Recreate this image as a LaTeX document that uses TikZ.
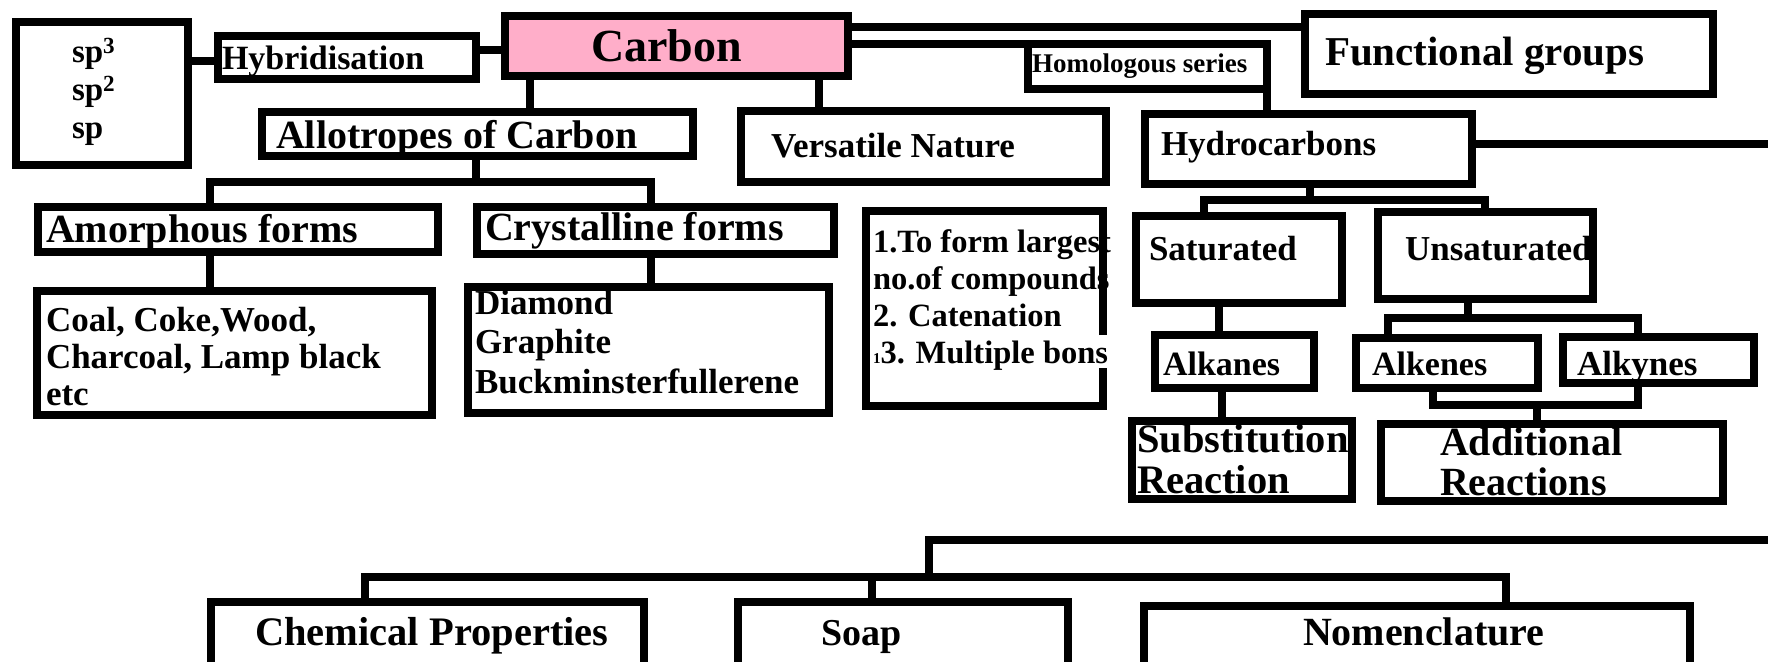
\documentclass[tikz,border=0pt]{standalone}
\usepackage{fontspec}
\setmainfont{Liberation Serif}
\definecolor{carbonpink}{RGB}{255,174,201}
\newcommand{\bxn}[6][]{\node[bx,#1,minimum width={#5-#3-8},minimum height={#6-#4-8}] (#2) at ({(#3+#5)/2},{(#4+#6)/2}) {};}
\newcommand{\mlines}[2]{\vtop{\baselineskip=#1pt\lineskiplimit=-100pt\lineskip=0pt #2}}
\tikzset{
  bx/.style={draw=black, line width=8pt, rectangle, inner sep=0pt, outer sep=0pt, fill=white},
  tx/.style={anchor=base west, inner sep=0pt, outer sep=0pt, font=\bfseries\fontsize{#1}{#1}\selectfont},
  ln/.style={draw=black, line width=8pt, line join=miter},
}
\begin{document}
\begin{tikzpicture}[x=1pt,y=-1pt]
\path[use as bounding box] (0,0) rectangle (1768,661);
\clip (0,0) rectangle (1768,661);
% boxes
\bxn{sp}{12}{18}{192}{169}
\bxn{hyb}{214}{32}{480}{83}
\bxn[fill=carbonpink]{carbon}{501}{12}{852}{80}
\bxn{allo}{258}{108}{697}{160}
\bxn{vnat}{737}{107}{1110}{186}
\bxn{homo}{1024}{40}{1271}{93}
\bxn{hydro}{1141}{110}{1476}{188}
\bxn{fg}{1301}{10}{1717}{98}
\bxn{amor}{34}{203}{442}{256}
\bxn{crys}{473}{203}{838}{258}
\bxn{coal}{33}{287}{436}{419}
\bxn{diam}{464}{283}{833}{417}
\bxn[draw=none]{vlist}{862}{207}{1107}{410}
\bxn{sat}{1132}{212}{1346}{307}
\bxn{unsat}{1374}{208}{1597}{303}
\bxn{alka}{1151}{331}{1318}{392}
\bxn{alke}{1352}{334}{1542}{392}
\bxn{alky}{1559}{333}{1758}{387}
\bxn{subs}{1128}{417}{1356}{503}
\bxn{addi}{1377}{420}{1727}{505}
\bxn{chem}{207}{598}{648}{720}
\bxn{soap}{734}{598}{1072}{720}
\bxn{nome}{1140}{602}{1694}{720}
% texts
\node[tx=33] (spt) at (72,63) {\mlines{38}{\hbox{sp\textsuperscript{3}}\hbox{sp\textsuperscript{2}}\hbox{sp}}};
\node[tx=34] (hybt) at (222,70) {Hybridisation};
\node[tx=46] (carbont) at (591,62) {Carbon};
\node[tx=40] (allot) at (276,148) {Allotropes of Carbon};
\node[tx=35] (vnatt) at (771,157) {Versatile Nature};
\node[tx=27] (homot) at (1032,73) {Homologous series};
\node[tx=41] (fgt) at (1325,65) {Functional groups};
\node[tx=35] (hydrot) at (1161,155) {Hydrocarbons};
\node[tx=40] (amort) at (46,242) {Amorphous forms};
\node[tx=40] (cryst) at (485,240) {Crystalline forms};
\node[tx=35] (coalt) at (46,331) {\mlines{37}{\hbox{Coal, Coke,Wood,}\hbox{Charcoal, Lamp black}\hbox{etc}}};
\node[tx=35] (diamt) at (475,314) {\mlines{39.5}{\hbox{Diamond}\hbox{Graphite}\hbox{Buckminsterfullerene}}};
\node[tx=32.5] (vlistt) at (873,252) {\mlines{37}{\hbox{1.To form largest}\hbox{no.of compounds}\hbox{2. Catenation}\hbox{{\fontsize{15}{15}\selectfont 1}3. Multiple bons}}};
\node[tx=35] (satt) at (1149,260) {Saturated};
\node[tx=35] (unsatt) at (1405,260) {Unsaturated};
\node[tx=34] (alkat) at (1163,375) {Alkanes};
\node[tx=34] (alket) at (1372,375) {Alkenes};
\node[tx=35] (alkyt) at (1577,375) {Alkynes};
\node[tx=40.5] (subst) at (1137,452) {\mlines{41}{\hbox{Substitution}\hbox{Reaction}}};
\node[tx=40] (addit) at (1440,455) {\mlines{40}{\hbox{Additional}\hbox{Reactions}}};
\node[tx=40.5] (chemt) at (255,645) {Chemical Properties};
\node[tx=38] (soapt) at (821,645) {Soap};
\node[tx=40] (nomet) at (1303,645) {Nomenclature};
% versatile list border with gap on the right
\draw[ln] (vlist.north east |- 0,335) -- (vlist.north east) -- (vlist.north west) -- (vlist.south west) -- (vlist.south east) -- (vlist.south east |- 0,368);
% connectors
\coordinate (offA) at (1768,144);
\coordinate (offB) at (1768,540);
\coordinate (botJ) at (929,577);
\draw[ln] (sp.east |- 0,61) -- (hyb.west |- 0,61);
\draw[ln] (hyb.east |- 0,50) -- (carbon.west |- 0,50);
\draw[ln] (carbon.south -| 530,0) -- (allo.north -| 530,0);
\draw[ln] (carbon.south -| 819,0) -- (vnat.north -| 819,0);
\draw[ln] (carbon.east |- 0,27) -- (fg.west |- 0,27);
\draw[ln] (carbon.east |- 0,44) -- (homo.north east) -- (hydro.north -| homo.east);
\draw[ln] (hydro.east |- offA) -- (offA);
\draw[ln] (offB) -- (botJ |- offB) -- (botJ);
\draw[ln] (chem.north -| 365,0) -- (365,577) -- (1506,577) -- (nome.north -| 1506,0);
\draw[ln] (soap.north -| 872,0) -- (872,577);
\draw[ln] (allo.south -| 476,0) -- (476,182);
\draw[ln] (amor.north -| 210,0) -- (210,182) -- (651,182) -- (crys.north -| 651,0);
\draw[ln] (amor.south -| 210,0) -- (coal.north -| 210,0);
\draw[ln] (crys.south -| 651,0) -- (diam.north -| 651,0);
\draw[ln] (hydro.south -| 1310,0) -- (1310,200);
\draw[ln] (sat.north -| 1204,0) -- (1204,200) -- (1485,200) -- (unsat.north -| 1485,0);
\draw[ln] (sat.south -| 1219,0) -- (alka.north -| 1219,0);
\draw[ln] (unsat.south -| 1468,0) -- (1468,318);
\draw[ln] (alke.north -| 1388,0) -- (1388,318) -- (1638,318) -- (alky.north -| 1638,0);
\draw[ln] (alka.south -| 1222,0) -- (subs.north -| 1222,0);
\draw[ln] (alke.south -| 1433,0) -- (1433,405) -- (1638,405) -- (alky.south -| 1638,0);
\draw[ln] (addi.north -| 1537,0) -- (1537,405);
\end{tikzpicture}
\end{document}
